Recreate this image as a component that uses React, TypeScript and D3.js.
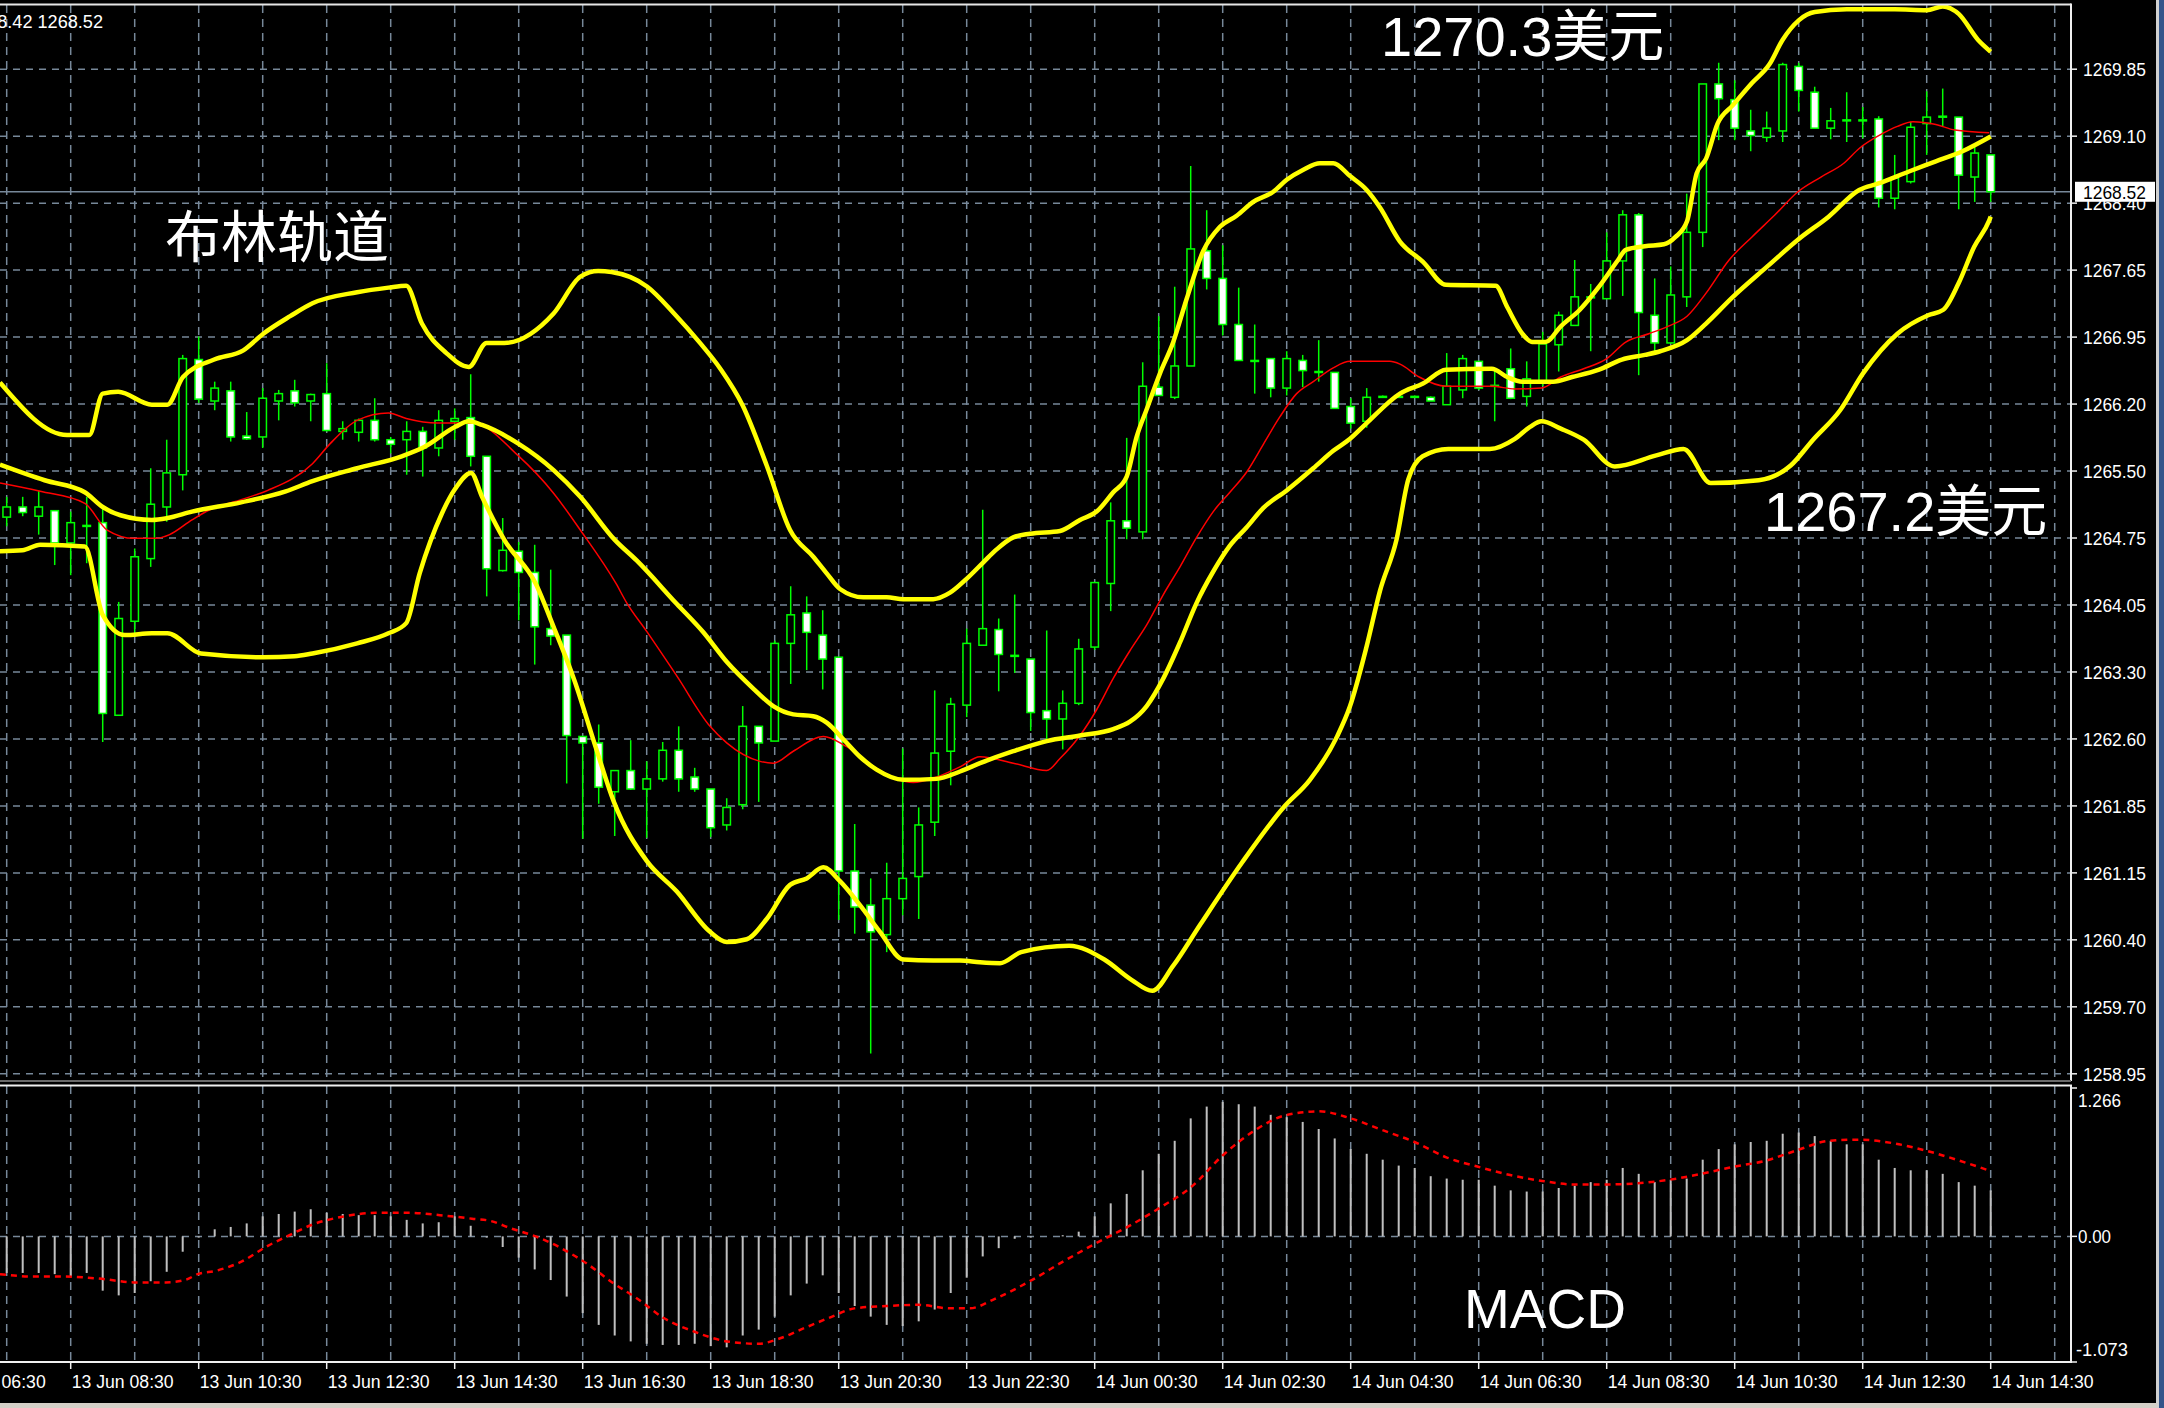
import React, { useEffect } from 'react';
import * as d3 from 'd3';

// ---------------- data ----------------
const priceTickLabels = ['1258.95','1259.70','1260.40','1261.15','1261.85','1262.60','1263.30','1264.05','1264.75','1265.50','1266.20','1266.95','1267.65','1268.40','1269.10','1269.85'];
const priceMin = 1258.95;
const priceMax = 1269.85;
const lastPrice = 1268.52;
const lastPriceLabel = '1268.52';
const infoText = '1268.42 1268.52';

const macdTickLabels = ['1.266', '0.00', '-1.073'];
const macdTickValues = [1.266, 0, -1.073];

const timeLabels = ['13 Jun 06:30','13 Jun 08:30','13 Jun 10:30','13 Jun 12:30','13 Jun 14:30','13 Jun 16:30','13 Jun 18:30','13 Jun 20:30','13 Jun 22:30','14 Jun 00:30','14 Jun 02:30','14 Jun 04:30','14 Jun 06:30','14 Jun 08:30','14 Jun 10:30','14 Jun 12:30','14 Jun 14:30'];
const timeLabelBars = [-4, 4, 12, 20, 28, 36, 44, 52, 60, 68, 76, 84, 92, 100, 108, 116, 124];

// 15-minute candles, 13 Jun 07:30 .. 14 Jun 14:30
const opens = [1264.99,1265.10,1265.00,1265.06,1264.71,1264.90,1264.93,1262.84,1263.86,1264.54,1265.10,1265.45,1266.70,1266.25,1266.36,1265.87,1265.86,1266.25,1266.36,1266.25,1266.33,1265.92,1265.91,1266.04,1265.83,1265.83,1265.92,1265.74,1266.03,1266.07,1265.65,1264.41,1264.62,1264.39,1263.78,1263.71,1262.61,1262.54,1262.01,1262.24,1262.04,1262.15,1262.46,1262.17,1262.04,1261.65,1261.87,1262.72,1262.56,1263.62,1263.95,1263.71,1263.47,1261.15,1260.78,1260.46,1260.85,1261.09,1261.68,1262.45,1262.95,1263.60,1263.77,1263.49,1263.45,1262.89,1262.80,1262.97,1263.58,1264.27,1264.95,1264.83,1266.40,1266.29,1266.63,1267.88,1267.58,1267.08,1266.69,1266.71,1266.39,1266.69,1266.57,1266.56,1266.19,1266.03,1266.30,1266.30,1266.30,1266.29,1266.21,1266.37,1266.68,1266.41,1266.60,1266.30,1266.46,1266.86,1267.07,1267.38,1267.36,1267.77,1268.27,1267.18,1266.88,1267.38,1268.08,1269.69,1269.52,1269.18,1269.11,1269.18,1269.88,1269.60,1269.21,1269.30,1269.30,1269.31,1268.45,1268.63,1269.26,1269.34,1269.33,1268.68,1268.92];
const highs = [1265.21,1265.21,1265.28,1265.06,1265.05,1265.21,1265.09,1264.07,1264.65,1265.52,1265.83,1266.75,1266.95,1266.46,1266.46,1266.13,1266.39,1266.37,1266.48,1266.33,1266.66,1266.03,1266.06,1266.28,1265.86,1266.03,1265.97,1266.15,1266.17,1266.54,1265.65,1264.98,1264.72,1264.69,1264.42,1263.71,1262.61,1262.74,1262.24,1262.57,1262.34,1262.55,1262.72,1262.27,1262.04,1261.94,1262.94,1262.72,1263.65,1264.24,1264.13,1263.98,1263.47,1261.66,1261.07,1261.24,1262.48,1261.84,1263.11,1263.03,1263.78,1265.07,1263.89,1264.15,1263.45,1263.76,1263.11,1263.67,1264.28,1265.15,1265.85,1266.67,1267.17,1267.49,1268.80,1268.32,1267.94,1267.48,1267.08,1266.71,1266.79,1266.75,1266.91,1266.56,1266.28,1266.39,1266.31,1266.31,1266.31,1266.30,1266.77,1266.75,1266.68,1266.60,1266.82,1266.68,1267.00,1267.22,1267.78,1267.52,1268.08,1268.32,1268.29,1267.58,1267.71,1268.50,1269.69,1269.92,1269.73,1269.41,1269.39,1269.92,1269.92,1269.66,1269.43,1269.60,1269.44,1269.34,1268.92,1269.28,1269.61,1269.64,1269.33,1269.04,1268.92];
const lows = [1264.89,1265.00,1264.80,1264.47,1264.36,1264.49,1262.55,1262.84,1263.73,1264.45,1264.94,1265.28,1266.23,1266.15,1265.81,1265.83,1265.74,1266.04,1266.19,1266.03,1265.92,1265.83,1265.81,1265.81,1265.68,1265.45,1265.43,1265.65,1265.83,1265.54,1264.13,1264.40,1263.87,1263.39,1263.60,1262.10,1261.50,1261.88,1261.53,1262.03,1261.51,1262.12,1262.01,1262.01,1261.52,1261.59,1261.82,1261.90,1262.56,1263.18,1263.33,1263.12,1260.62,1260.47,1259.17,1260.27,1260.67,1260.63,1261.53,1262.08,1262.82,1263.60,1263.10,1263.30,1262.67,1262.58,1262.47,1262.95,1263.55,1263.97,1264.75,1264.75,1266.31,1266.27,1266.63,1267.46,1266.96,1266.69,1266.33,1266.29,1266.31,1266.40,1266.46,1266.17,1265.95,1265.96,1266.29,1266.29,1266.29,1266.25,1266.21,1266.28,1266.37,1266.03,1266.27,1266.19,1266.41,1266.57,1267.07,1266.79,1267.36,1267.39,1266.53,1266.79,1266.88,1267.27,1267.92,1269.08,1269.08,1268.96,1269.06,1269.06,1269.39,1269.21,1269.09,1269.06,1269.10,1268.35,1268.33,1268.61,1268.92,1269.23,1268.33,1268.41,1268.41];
const closes = [1265.10,1265.04,1265.10,1264.71,1264.93,1264.90,1262.86,1263.89,1264.56,1265.13,1265.47,1266.71,1266.27,1266.39,1265.86,1265.84,1266.28,1266.33,1266.23,1266.32,1265.93,1265.95,1266.04,1265.83,1265.78,1265.92,1265.74,1266.04,1266.06,1265.65,1264.43,1264.63,1264.39,1263.80,1263.70,1262.62,1262.54,1262.06,1262.24,1262.04,1262.15,1262.46,1262.15,1262.04,1261.62,1261.84,1262.72,1262.54,1263.62,1263.93,1263.74,1263.45,1261.15,1260.76,1260.49,1260.85,1261.07,1261.65,1262.43,1262.96,1263.62,1263.78,1263.50,1263.49,1262.87,1262.80,1262.97,1263.56,1264.28,1264.95,1264.87,1266.41,1266.31,1266.63,1267.90,1267.58,1267.08,1266.69,1266.69,1266.39,1266.71,1266.58,1266.57,1266.17,1266.01,1266.29,1266.30,1266.30,1266.30,1266.25,1266.41,1266.71,1266.39,1266.42,1266.28,1266.49,1266.87,1267.18,1267.38,1267.38,1267.77,1268.27,1267.21,1266.88,1267.40,1268.08,1269.69,1269.53,1269.21,1269.13,1269.21,1269.90,1269.62,1269.21,1269.29,1269.30,1269.30,1268.45,1268.67,1269.22,1269.33,1269.34,1268.70,1268.94,1268.52];

// Bollinger bands and red moving average, read as [candle index, price]
const bbUpper: [number, number][] = [[-0.42,1266.45],[3.77,1265.88],[5.16,1265.88],[6.0,1266.33],[6.97,1266.35],[9.07,1266.21],[10.04,1266.21],[11.02,1266.51],[12.97,1266.70],[14.79,1266.80],[16.04,1266.98],[17.72,1267.17],[19.11,1267.31],[21.9,1267.43],[23.86,1267.48],[24.97,1267.50],[25.95,1267.09],[27.48,1266.77],[28.88,1266.62],[29.99,1266.88],[31.11,1266.88],[34.18,1267.20],[35.86,1267.60],[36.97,1267.66],[37.8,1267.65],[40.04,1267.49],[41.71,1267.20],[43.33,1266.88],[44.6,1266.6],[46.0,1266.2],[47.5,1265.55],[48.96,1264.85],[50.41,1264.56],[51.25,1264.38],[52.08,1264.21],[53.54,1264.12],[55.0,1264.12],[56.04,1264.10],[57.91,1264.10],[58.96,1264.17],[59.99,1264.32],[61.04,1264.50],[61.87,1264.64],[62.91,1264.77],[63.96,1264.81],[65.83,1264.84],[67.08,1264.96],[68.12,1265.05],[69.16,1265.26],[70.0,1265.43],[70.62,1265.86],[71.25,1266.16],[72.08,1266.55],[72.91,1266.89],[73.75,1267.36],[74.79,1267.88],[75.83,1268.14],[76.87,1268.26],[77.91,1268.41],[79.16,1268.52],[80.0,1268.65],[81.04,1268.76],[82.08,1268.83],[82.91,1268.83],[83.96,1268.69],[85.0,1268.54],[85.83,1268.35],[87.08,1267.98],[88.52,1267.76],[89.95,1267.51],[93.06,1267.50],[93.78,1267.27],[94.73,1266.98],[95.33,1266.89],[96.17,1266.89],[97.13,1267.06],[98.32,1267.24],[99.52,1267.49],[100.71,1267.78],[101.19,1267.89],[102.39,1267.93],[103.58,1267.95],[104.3,1268.03],[105.02,1268.20],[105.62,1268.72],[106.21,1268.88],[106.93,1269.26],[107.89,1269.46],[109.08,1269.70],[110.16,1269.90],[111.0,1270.17],[112.0,1270.38],[113.0,1270.47],[115.0,1270.50],[118.0,1270.50],[120.0,1270.49],[121.0,1270.53],[122.0,1270.45],[123.2,1270.17],[124.0,1270.04]];
const bbMiddle: [number, number][] = [[-0.42,1265.56],[2.37,1265.39],[4.88,1265.26],[6.0,1265.10],[7.11,1265.01],[9.07,1264.96],[10.04,1264.98],[11.58,1265.05],[14.65,1265.15],[17.44,1265.27],[19.11,1265.38],[21.9,1265.52],[24.69,1265.65],[26.09,1265.75],[28.04,1265.97],[28.88,1266.03],[29.71,1265.99],[31.95,1265.79],[34.18,1265.50],[35.85,1265.21],[38.02,1264.74],[39.37,1264.52],[41.87,1264.05],[43.54,1263.74],[45.0,1263.42],[46.66,1263.13],[47.91,1262.94],[49.16,1262.85],[50.41,1262.83],[51.25,1262.76],[52.29,1262.58],[53.33,1262.39],[54.37,1262.25],[56.04,1262.14],[58.12,1262.15],[59.58,1262.23],[60.83,1262.32],[62.91,1262.45],[65.0,1262.56],[67.08,1262.62],[69.16,1262.69],[70.2,1262.77],[71.25,1262.94],[72.29,1263.24],[73.33,1263.63],[74.37,1264.06],[75.41,1264.40],[76.45,1264.68],[77.5,1264.88],[78.54,1265.09],[80.0,1265.28],[81.66,1265.52],[82.91,1265.71],[83.96,1265.84],[85.0,1266.01],[87.08,1266.33],[88.52,1266.44],[89.95,1266.59],[92.82,1266.60],[93.78,1266.51],[94.73,1266.46],[96.65,1266.46],[97.84,1266.51],[99.52,1266.59],[100.95,1266.70],[102.39,1266.75],[103.34,1266.79],[105.02,1266.91],[106.21,1267.09],[107.89,1267.38],[110.04,1267.71],[111.95,1268.00],[113.87,1268.25],[115.78,1268.54],[116.98,1268.61],[118.89,1268.74],[120.57,1268.85],[122.24,1268.96],[124.0,1269.12]];
const bbLower: [number, number][] = [[-0.42,1264.62],[0.98,1264.63],[2.09,1264.69],[4.88,1264.67],[6.0,1263.93],[7.39,1263.71],[9.07,1263.73],[10.04,1263.73],[12.14,1263.51],[16.04,1263.47],[17.99,1263.48],[19.11,1263.51],[21.9,1263.62],[23.86,1263.73],[24.97,1263.84],[25.81,1264.38],[27.2,1265.03],[28.04,1265.30],[29.02,1265.47],[29.71,1265.21],[31.11,1264.74],[33.06,1264.27],[34.18,1263.80],[35.5,1263.21],[36.8,1262.50],[37.95,1261.90],[40.0,1261.26],[41.87,1260.93],[43.96,1260.49],[45.0,1260.38],[46.25,1260.41],[47.5,1260.63],[48.96,1261.00],[50.0,1261.07],[51.04,1261.19],[52.08,1261.04],[53.33,1260.78],[54.58,1260.49],[56.04,1260.19],[57.91,1260.18],[59.58,1260.18],[60.83,1260.16],[62.08,1260.15],[63.4,1260.27],[66.4,1260.34],[68.6,1260.19],[70.3,1259.97],[71.6,1259.85],[72.9,1260.12],[74.6,1260.57],[77.2,1261.24],[79.8,1261.84],[81.45,1262.14],[83.12,1262.60],[83.96,1262.94],[85.0,1263.59],[85.83,1264.19],[86.87,1264.75],[87.6,1265.40],[88.5,1265.65],[90.1,1265.73],[92.7,1265.73],[94.26,1265.84],[95.21,1265.97],[95.93,1266.03],[97.13,1265.95],[98.56,1265.83],[100.5,1265.54],[103.1,1265.66],[104.8,1265.73],[106.5,1265.36],[109.5,1265.39],[111.5,1265.55],[112.9,1265.83],[114.59,1266.15],[116.02,1266.55],[118.17,1266.98],[120.09,1267.18],[121.04,1267.24],[122.0,1267.53],[122.96,1267.92],[123.91,1268.21],[124.0,1268.25]];
const maRed: [number, number][] = [[-0.42,1265.36],[2.09,1265.27],[4.88,1265.14],[6.28,1264.85],[7.95,1264.76],[9.35,1264.76],[10.18,1264.80],[11.58,1264.96],[12.69,1265.07],[14.65,1265.18],[16.32,1265.28],[19.11,1265.57],[20.23,1265.79],[21.9,1266.04],[23.86,1266.12],[24.97,1266.06],[26.92,1266.01],[29.16,1266.01],[31.95,1265.66],[34.18,1265.25],[35.85,1264.85],[38.08,1264.27],[38.75,1264.06],[40.0,1263.75],[41.87,1263.27],[43.96,1262.72],[45.0,1262.54],[47.08,1262.34],[47.91,1262.32],[49.16,1262.45],[51.04,1262.61],[52.5,1262.50],[54.5,1262.25],[56.66,1262.11],[58.12,1262.17],[59.58,1262.28],[60.83,1262.39],[62.91,1262.32],[65.0,1262.24],[65.83,1262.37],[67.08,1262.62],[68.12,1262.90],[69.16,1263.24],[70.2,1263.54],[71.25,1263.82],[72.29,1264.15],[73.33,1264.45],[74.37,1264.77],[75.41,1265.05],[76.45,1265.26],[77.5,1265.48],[78.54,1265.78],[79.58,1266.08],[80.62,1266.33],[81.66,1266.46],[82.91,1266.61],[83.96,1266.68],[86.45,1266.68],[87.08,1266.65],[88.28,1266.51],[89.95,1266.41],[92.82,1266.41],[94.26,1266.38],[95.93,1266.39],[97.13,1266.51],[98.56,1266.60],[100.0,1266.71],[101.19,1266.89],[102.63,1266.98],[103.82,1267.06],[105.02,1267.17],[106.21,1267.42],[107.65,1267.78],[109.08,1268.03],[110.52,1268.27],[111.95,1268.52],[113.39,1268.68],[114.82,1268.83],[115.78,1268.99],[117.22,1269.15],[118.17,1269.23],[119.13,1269.28],[120.57,1269.25],[121.76,1269.19],[123.91,1269.16]];

// MACD histogram (one per candle) and signal line [candle index, value]
const macdHist = [-0.31,-0.31,-0.31,-0.32,-0.34,-0.31,-0.46,-0.50,-0.48,-0.38,-0.30,-0.13,-0.01,0.06,0.08,0.11,0.17,0.19,0.21,0.23,0.20,0.19,0.18,0.18,0.17,0.14,0.11,0.12,0.17,0.09,-0.01,-0.09,-0.18,-0.28,-0.37,-0.51,-0.65,-0.75,-0.84,-0.89,-0.91,-0.92,-0.92,-0.91,-0.93,-0.94,-0.84,-0.79,-0.68,-0.50,-0.40,-0.33,-0.48,-0.59,-0.68,-0.75,-0.76,-0.72,-0.62,-0.48,-0.35,-0.17,-0.10,-0.02,-0.01,0.00,0.01,0.04,0.17,0.28,0.36,0.56,0.70,0.81,1.00,1.10,1.14,1.12,1.10,1.03,1.01,0.97,0.91,0.83,0.74,0.70,0.65,0.60,0.58,0.51,0.49,0.48,0.48,0.43,0.39,0.38,0.38,0.41,0.43,0.46,0.48,0.58,0.53,0.46,0.48,0.49,0.65,0.74,0.78,0.80,0.81,0.87,0.88,0.85,0.81,0.78,0.78,0.65,0.58,0.56,0.56,0.53,0.46,0.43,0.39];
const macdSignal: [number, number][] = [[-0.42,-0.32],[1.57,-0.34],[3.57,-0.34],[5.96,-0.36],[7.95,-0.39],[9.94,-0.39],[11.14,-0.37],[11.94,-0.32],[13.13,-0.29],[14.73,-0.21],[16.32,-0.08],[17.52,0.0],[19.11,0.10],[21.11,0.17],[23.1,0.20],[25.09,0.20],[27.08,0.18],[29.08,0.15],[30.27,0.13],[31.47,0.07],[33.06,0.0],[34.66,-0.10],[36.25,-0.23],[37.85,-0.39],[39.44,-0.53],[41.04,-0.69],[43.03,-0.81],[45.02,-0.89],[47.01,-0.91],[48.21,-0.87],[49.8,-0.78],[51.4,-0.69],[52.99,-0.61],[54.98,-0.59],[56.98,-0.58],[58.97,-0.61],[60.17,-0.61],[61.76,-0.53],[64.07,-0.37],[66.07,-0.21],[68.06,-0.06],[70.05,0.08],[72.04,0.24],[74.04,0.42],[76.03,0.69],[78.02,0.90],[80.02,1.03],[82.01,1.06],[84.0,1.00],[85.99,0.90],[87.99,0.80],[89.98,0.67],[91.97,0.59],[93.97,0.52],[95.96,0.47],[97.95,0.44],[99.94,0.44],[101.94,0.45],[103.93,0.48],[105.92,0.53],[107.92,0.59],[109.91,0.64],[111.9,0.73],[113.89,0.81],[115.89,0.82],[117.88,0.79],[119.87,0.73],[121.86,0.65],[123.86,0.56]];

// ---------------- drawing ----------------
const W = 2164;
const H = 1408;
const PLOT_R = 2071;
const MAIN_T = 5;
const MAIN_B = 1081;
const MACD_T = 1086;
const MACD_B = 1362;

const GRID = '#778899';
const LIME = '#00ff00';
const AXIS_FONT = "'Liberation Sans', Arial, sans-serif";
const CJK_FONT = "'Liberation Sans', 'Noto Sans CJK SC', sans-serif";

export default function App() {
  useEffect(() => {
    document.body.style.margin = '0';
    document.body.style.background = '#000';
  }, []);

  const x = d3.scaleLinear().domain([0, 124]).range([6.7, 1990.7]);
  const y = d3.scaleLinear().domain([priceMin, priceMax]).range([1073.8, 69.2]);
  const ym = d3.scaleLinear().domain([-1.073, 1.266]).range([1363, 1087]);

  const priceTicks = d3.range(priceTickLabels.length).map(
    (i) => priceMin + (i * (priceMax - priceMin)) / (priceTickLabels.length - 1)
  );
  const vGrid = d3.range(0, 129, 4).map((k) => x(k));

  const priceLine = d3
    .line<[number, number]>()
    .x((d) => x(d[0]))
    .y((d) => y(d[1]))
    .curve(d3.curveMonotoneX);
  const macdLine = d3
    .line<[number, number]>()
    .x((d) => x(d[0]))
    .y((d) => ym(d[1]))
    .curve(d3.curveMonotoneX);

  const bodyW = 7.5;

  return (
    <svg
      width={W}
      height={H}
      style={{ position: 'absolute', left: 0, top: 0, display: 'block', background: '#000' }}
    >
      <defs>
        <clipPath id="mainClip">
          <rect x={0} y={MAIN_T} width={PLOT_R} height={MAIN_B - MAIN_T} />
        </clipPath>
        <clipPath id="macdClip">
          <rect x={0} y={MACD_T} width={PLOT_R} height={MACD_B - MACD_T} />
        </clipPath>
      </defs>
      <rect x={0} y={0} width={W} height={H} fill="#000" />

      {/* main panel grid */}
      <g clipPath="url(#mainClip)">
        {priceTicks.map((v, i) => (
          <line key={'hg' + i} x1={0} x2={PLOT_R} y1={y(v)} y2={y(v)} stroke={GRID} strokeWidth={1.5} strokeDasharray="7,6" />
        ))}
        {vGrid.map((gx, i) => (
          <line key={'vg' + i} x1={gx} x2={gx} y1={MAIN_T} y2={MAIN_B} stroke={GRID} strokeWidth={1.5} strokeDasharray="8,6" />
        ))}
        {/* bid line */}
        <line x1={0} x2={PLOT_R} y1={y(lastPrice)} y2={y(lastPrice)} stroke={GRID} strokeWidth={1.5} />

        {/* candles */}
        {opens.map((o, k) => {
          const c = closes[k];
          const cx = x(k);
          const top = Math.min(y(o), y(c));
          const h = Math.max(Math.abs(y(o) - y(c)), 1);
          const bear = c < o;
          return (
            <g key={'c' + k}>
              <line x1={cx} x2={cx} y1={y(highs[k])} y2={y(lows[k])} stroke={LIME} strokeWidth={1.5} />
              <rect x={cx - bodyW / 2} y={top} width={bodyW} height={h} fill={bear ? '#ffffff' : '#000000'} stroke={LIME} strokeWidth={1.5} />
            </g>
          );
        })}

        {/* red moving average */}
        <path d={priceLine(maRed) || ''} fill="none" stroke="#ff0000" strokeWidth={1.5} />
        {/* Bollinger bands */}
        <path d={priceLine(bbUpper) || ''} fill="none" stroke="#ffff00" strokeWidth={4.5} />
        <path d={priceLine(bbMiddle) || ''} fill="none" stroke="#ffff00" strokeWidth={4.5} />
        <path d={priceLine(bbLower) || ''} fill="none" stroke="#ffff00" strokeWidth={4.5} />
      </g>

      {/* MACD panel */}
      <g clipPath="url(#macdClip)">
        {vGrid.map((gx, i) => (
          <line key={'mvg' + i} x1={gx} x2={gx} y1={MACD_T} y2={MACD_B} stroke={GRID} strokeWidth={1.5} strokeDasharray="8,6" />
        ))}
        <line x1={0} x2={PLOT_R} y1={ym(0)} y2={ym(0)} stroke={GRID} strokeWidth={1.5} strokeDasharray="7,6" />
        {macdHist.map((v, k) => (
          <line key={'mh' + k} x1={x(k)} x2={x(k)} y1={ym(0)} y2={ym(v)} stroke="#c0c0c0" strokeWidth={2} />
        ))}
        <path d={macdLine(macdSignal) || ''} fill="none" stroke="#ff0000" strokeWidth={2.5} strokeDasharray="6,5" />
      </g>

      {/* frames */}
      <line x1={0} x2={PLOT_R} y1={4.5} y2={4.5} stroke="#e6e6e6" strokeWidth={2} />
      <line x1={PLOT_R} x2={PLOT_R} y1={3.5} y2={MAIN_B} stroke="#f0f0f0" strokeWidth={2} />
      <line x1={0} x2={PLOT_R} y1={MAIN_B} y2={MAIN_B} stroke="#6a6a6a" strokeWidth={2} />
      <line x1={0} x2={PLOT_R + 1} y1={MACD_T - 0.5} y2={MACD_T - 0.5} stroke="#f0f0f0" strokeWidth={2} />
      <line x1={PLOT_R} x2={PLOT_R} y1={MACD_T - 0.5} y2={MACD_B} stroke="#f0f0f0" strokeWidth={2} />
      <line x1={0} x2={PLOT_R + 1} y1={MACD_B} y2={MACD_B} stroke="#f0f0f0" strokeWidth={2} />

      {/* price axis */}
      {priceTicks.map((v, i) => (
        <g key={'pt' + i}>
          <line x1={PLOT_R} x2={PLOT_R + 6} y1={y(v)} y2={y(v)} stroke="#f0f0f0" strokeWidth={1.5} />
          <text x={2083} y={y(v) + 7} fill="#ffffff" fontFamily={AXIS_FONT} fontSize={18} textLength={63} lengthAdjust="spacingAndGlyphs">
            {priceTickLabels[i]}
          </text>
        </g>
      ))}
      <rect x={2075} y={y(lastPrice) - 10} width={80} height={20} fill="#ffffff" />
      <text x={2083} y={y(lastPrice) + 7} fill="#000000" fontFamily={AXIS_FONT} fontSize={18} textLength={63} lengthAdjust="spacingAndGlyphs">
        {lastPriceLabel}
      </text>

      {/* MACD axis */}
      {macdTickValues.map((v, i) => {
        const ty = i === 0 ? ym(v) + 1 : i === 2 ? ym(v) - 1 : ym(v);
        const by = i === 0 ? ty + 19 : i === 2 ? ty - 6 : ty + 7;
        const lens = [43, 33, 52];
        return (
          <g key={'mt' + i}>
            <line x1={PLOT_R} x2={PLOT_R + 6} y1={ty} y2={ty} stroke="#f0f0f0" strokeWidth={1.5} />
            <text x={i === 2 ? 2076 : 2078} y={by} fill="#ffffff" fontFamily={AXIS_FONT} fontSize={18} textLength={lens[i]} lengthAdjust="spacingAndGlyphs">
              {macdTickLabels[i]}
            </text>
          </g>
        );
      })}

      {/* time axis */}
      {timeLabels.map((t, i) => {
        const tx = x(timeLabelBars[i]);
        return (
          <g key={'tl' + i}>
            <line x1={tx} x2={tx} y1={MACD_B} y2={MACD_B + 7} stroke="#f0f0f0" strokeWidth={1.5} />
            <text x={tx + 1} y={1388} fill="#ffffff" fontFamily={AXIS_FONT} fontSize={18} textLength={102} lengthAdjust="spacingAndGlyphs">
              {t}
            </text>
          </g>
        );
      })}

      {/* info line, top-left (clipped at the left edge as in the terminal) */}
      <text x={-33} y={28} fill="#ffffff" fontFamily={AXIS_FONT} fontSize={18} textLength={136} lengthAdjust="spacingAndGlyphs">
        {infoText}
      </text>

      {/* annotations */}
      <text x={165} y={257} fill="#ffffff" fontFamily="'Noto Sans CJK SC', sans-serif" fontSize={56}>布林轨道</text>
      <text x={1381} y={56} fill="#ffffff" fontFamily={CJK_FONT} fontSize={56}>1270.3美元</text>
      <text x={1764} y={531} fill="#ffffff" fontFamily={CJK_FONT} fontSize={56}>1267.2美元</text>
      <text x={1464} y={1328} fill="#ffffff" fontFamily={CJK_FONT} fontSize={55}>MACD</text>

      {/* window edges */}
      <rect x={2156} y={0} width={3} height={H} fill="#d0d0d0" />
      <rect x={2159} y={0} width={5} height={H} fill="#34558a" />
      <rect x={0} y={1403} width={2157} height={5} fill="#d4d0c8" />
    </svg>
  );
}
